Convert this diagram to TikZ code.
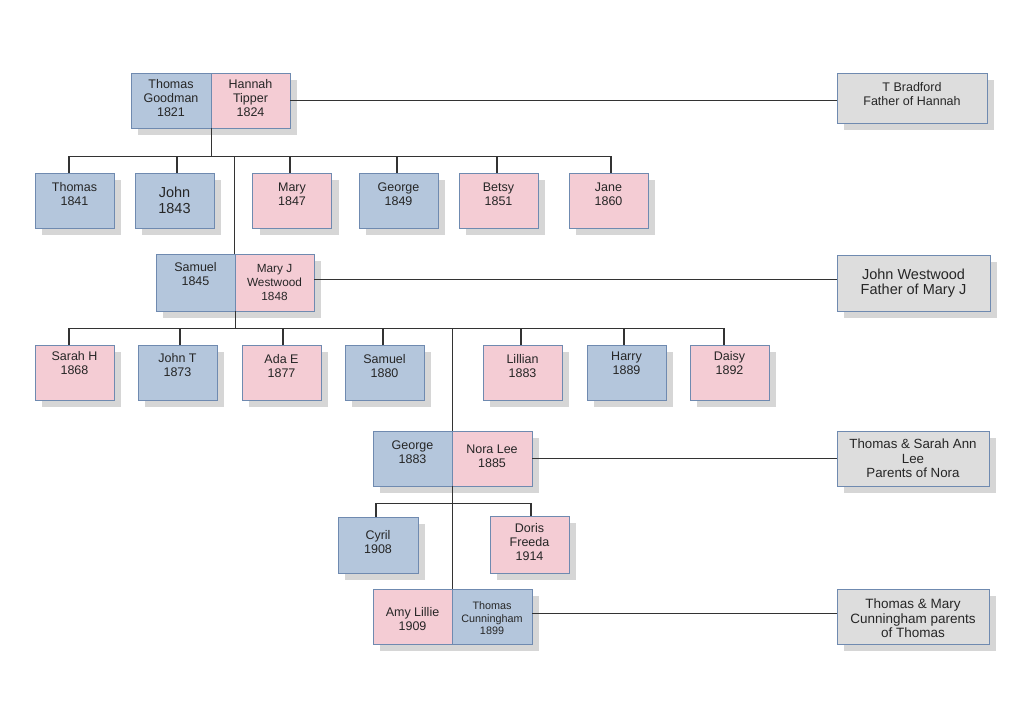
\documentclass[tikz,border=0pt]{standalone}
\usepackage{fontspec}
\setmainfont{Liberation Sans}
\usetikzlibrary{shadows,calc}
\definecolor{bluec}{HTML}{B4C6DC}
\definecolor{pinkc}{HTML}{F4CCD4}
\definecolor{grayc}{HTML}{DDDDDD}
\definecolor{bordc}{HTML}{6F8AB0}
\definecolor{shadc}{HTML}{D6D6D6}
\definecolor{linec}{HTML}{333333}
\definecolor{textc}{HTML}{262626}
\tikzset{
  box/.style={draw=bordc, line width=0.8pt, minimum width=79pt, minimum height=55pt, inner sep=0pt,
    drop shadow={shadow xshift=7pt, shadow yshift=-7pt, fill=shadc, opacity=1}},
  bluebox/.style={box, fill=bluec},
  pinkbox/.style={box, fill=pinkc},
  graybox/.style={box, fill=grayc, minimum width=152pt},
  txt/.style={align=center, text=textc, inner sep=0pt, font=\fontsize{12.5}{14}\selectfont},
  bigtxt/.style={txt, font=\fontsize{14.5}{16.5}\selectfont},
  link/.style={draw=linec, line width=1.2pt},
}
\begin{document}
\begin{tikzpicture}[x=1pt,y=-1pt]
\useasboundingbox[fill=white] (0,0) rectangle (1024,724);

% ---- generation 1
\node[bluebox, minimum width=80pt] (tg) at (171,100.5) {};
\node[txt] (tgt) at ([yshift=2pt]tg.center) {Thomas\\Goodman\\1821};
\node[pinkbox] (ht) at (250.5,100.5) {};
\node[txt] (htt) at ([yshift=2pt]ht.center) {Hannah\\Tipper\\1824};
\node[graybox, minimum width=150pt, minimum height=50pt] (tb) at (912,98) {};
\node[txt] (tbt) at ([yshift=3.5pt]tb.center) {T Bradford\\Father of Hannah};

% ---- generation 2
\node[bluebox] (c1) at (74.5,200.5) {};
\node[txt] (c1t) at ([yshift=6pt]c1.center) {Thomas\\1841};
\node[bluebox] (c2) at (174.5,200.5) {};
\node[bigtxt] (c2t) at ([yshift=0pt]c2.center) {John\\1843};
\node[pinkbox] (c3) at (292,200.5) {};
\node[txt] (c3t) at ([yshift=6pt]c3.center) {Mary\\1847};
\node[bluebox] (c4) at (398.5,200.5) {};
\node[txt] (c4t) at ([yshift=6pt]c4.center) {George\\1849};
\node[pinkbox] (c5) at (498.5,200.5) {};
\node[txt] (c5t) at ([yshift=6pt]c5.center) {Betsy\\1851};
\node[pinkbox] (c6) at (608.5,200.5) {};
\node[txt] (c6t) at ([yshift=6pt]c6.center) {Jane\\1860};

\node[bluebox, minimum height=57pt] (sam) at (195.5,282.5) {};
\node[txt] (samt) at ([yshift=8pt]sam.center) {Samuel\\1845};
\node[pinkbox, minimum height=57pt] (mj) at (274.5,282.5) {};
\node[txt, font=\fontsize{11.8}{14}\selectfont] (mjt) at (mj.center) {Mary J\\Westwood\\1848};
\node[graybox, minimum width=153pt, minimum height=56pt] (jw) at (913.5,283) {};
\node[txt, font=\fontsize{14.5}{15.5}\selectfont] (jwt) at (jw.center) {John Westwood\\Father of Mary J};

% ---- generation 3
\node[pinkbox] (sh) at (74.5,372.5) {};
\node[txt] (sht) at ([yshift=9pt]sh.center) {Sarah H\\1868};
\node[bluebox] (jt) at (177.5,372.5) {};
\node[txt] (jtt) at ([yshift=7pt]jt.center) {John T\\1873};
\node[pinkbox] (ae) at (281.5,372.5) {};
\node[txt] (aet) at ([yshift=6pt]ae.center) {Ada E\\1877};
\node[bluebox] (s2) at (384.5,372.5) {};
\node[txt] (s2t) at ([yshift=6pt]s2.center) {Samuel\\1880};
\node[pinkbox] (li) at (522.5,372.5) {};
\node[txt] (lit) at ([yshift=6pt]li.center) {Lillian\\1883};
\node[bluebox] (ha) at (626.5,372.5) {};
\node[txt] (hat) at ([yshift=9pt]ha.center) {Harry\\1889};
\node[pinkbox] (da) at (729.5,372.5) {};
\node[txt] (dat) at ([yshift=9pt]da.center) {Daisy\\1892};

\node[bluebox] (g) at (412.5,458.5) {};
\node[txt] (gt) at ([yshift=6pt]g.center) {George\\1883};
\node[pinkbox, minimum width=80pt] (nl) at (492,458.5) {};
\node[txt] (nlt) at ([yshift=2.5pt]nl.center) {Nora Lee\\1885};
\node[graybox] (tsa) at (913,458.5) {};
\node[txt, font=\fontsize{13.3}{14.5}\selectfont] (tsat) at (tsa.center) {Thomas \& Sarah Ann\\Lee\\Parents of Nora};

% ---- generation 4
\node[bluebox, minimum width=80pt, minimum height=56pt] (cy) at (378,545) {};
\node[txt] (cyt) at ([yshift=3pt]cy.center) {Cyril\\1908};
\node[pinkbox, minimum height=57pt] (do) at (529.5,544.5) {};
\node[txt] (dot) at ([yshift=2pt]do.center) {Doris\\Freeda\\1914};

\node[pinkbox] (amy) at (412.5,616.5) {};
\node[txt] (amyt) at ([yshift=-2.5pt]amy.center) {Amy Lillie\\1909};
\node[bluebox, minimum width=80pt] (tc) at (492,616.5) {};
\node[txt, font=\fontsize{10.8}{12.5}\selectfont] (tct) at ([yshift=-2pt]tc.center) {Thomas\\Cunningham\\1899};
\node[graybox] (tmc) at (913,616.5) {};
\node[txt, font=\fontsize{13.5}{14.5}\selectfont] (tmct) at ([yshift=-2pt]tmc.center) {Thomas \& Mary\\Cunningham parents\\of Thomas};

% ---- connectors
\draw[link] (ht.east) -- (ht.east -| tb.west);
\draw[link] ([yshift=3pt]mj.east) -- ([yshift=3pt]mj.east -| jw.west);
\draw[link] (nl.east) -- (nl.east -| tsa.west);
\draw[link] ([yshift=3pt]tc.east) -- ([yshift=3pt]tc.east -| tmc.west);

\coordinate (bar1) at ($(tg.south east)+(0,28)$);
\draw[link] (tg.south east) -- (bar1);
\draw[link] ([xshift=-5.5pt]c1.north) |- (bar1) -| ([xshift=2.5pt]c6.north);
\draw[link] ([xshift=2.5pt]c2.north) -- ([xshift=2.5pt]c2.north |- bar1);
\draw[link] ([xshift=-2pt]c3.north) -- ([xshift=-2pt]c3.north |- bar1);
\draw[link] ([xshift=-1.5pt]c4.north) -- ([xshift=-1.5pt]c4.north |- bar1);
\draw[link] ([xshift=-1.5pt]c5.north) -- ([xshift=-1.5pt]c5.north |- bar1);
\draw[link] ([xshift=-1pt]sam.north east) -- ([xshift=-1pt]sam.north east |- bar1);

\coordinate (bar2) at ($(sam.south east)+(0,17)$);
\draw[link] (sam.south east) -- (bar2);
\draw[link] ([xshift=-5.5pt]sh.north) |- (bar2) -| ([xshift=-5.5pt]da.north);
\draw[link] ([xshift=2.5pt]jt.north) -- ([xshift=2.5pt]jt.north |- bar2);
\draw[link] ([xshift=1.5pt]ae.north) -- ([xshift=1.5pt]ae.north |- bar2);
\draw[link] ([xshift=-1.5pt]s2.north) -- ([xshift=-1.5pt]s2.north |- bar2);
\draw[link] ([xshift=-1.5pt]li.north) -- ([xshift=-1.5pt]li.north |- bar2);
\draw[link] ([xshift=-2.5pt]ha.north) -- ([xshift=-2.5pt]ha.north |- bar2);
\draw[link] (g.north east |- bar2) -- (g.north east);

\coordinate (bar3) at ($(g.south east)+(0,17)$);
\draw[link] (g.south east) -- (amy.north east);
\draw[link] ([xshift=-2pt]cy.north) |- (bar3) -| ([xshift=1.5pt]do.north);
\end{tikzpicture}
\end{document}
